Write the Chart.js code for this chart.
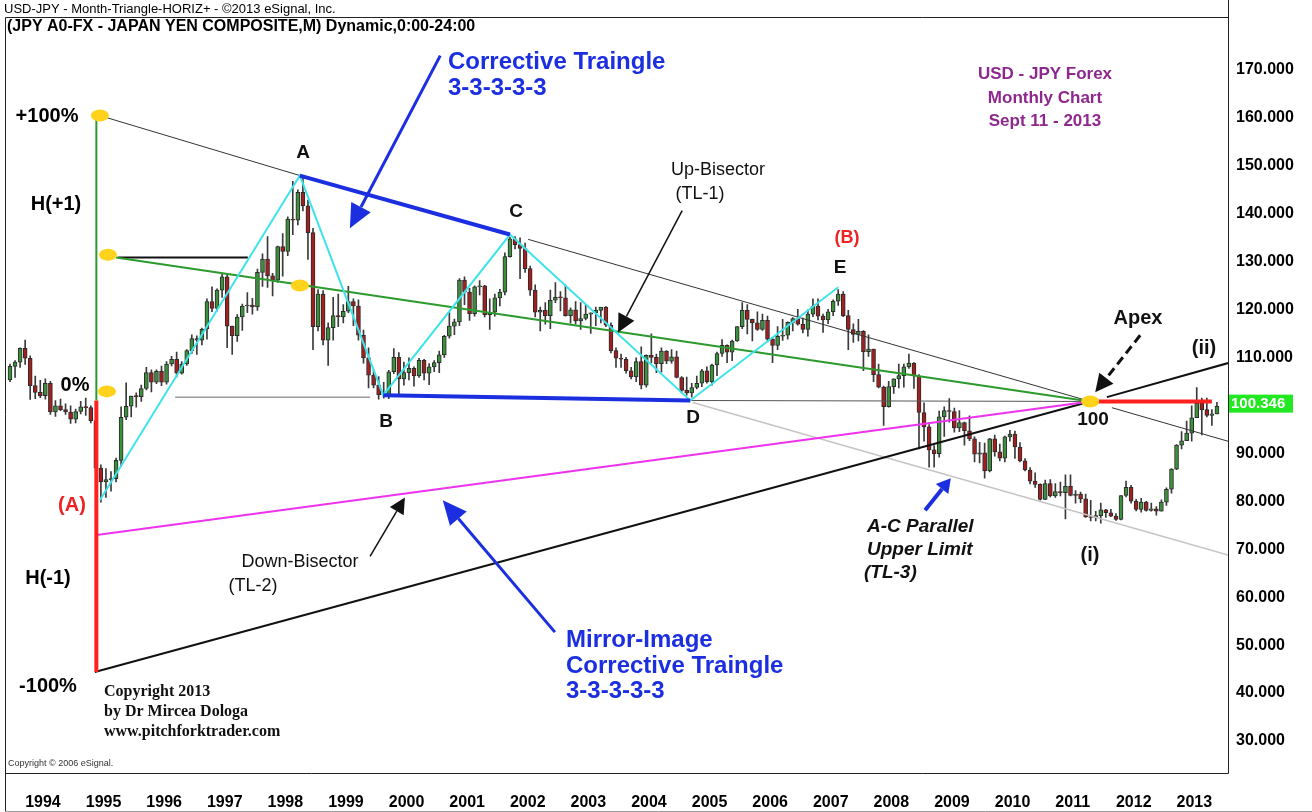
<!DOCTYPE html>
<html>
<head>
<meta charset="utf-8">
<script src="https://cdn.jsdelivr.net/npm/chart.js@4.4.0/dist/chart.umd.min.js"></script>
<style>
  html, body { margin: 0; padding: 0; background: #fff; }
  #wrap { width: 1312px; height: 812px; }
</style>
</head>
<body>
<div id="wrap"><canvas id="chart" width="1312" height="812"></canvas></div>
<script>
// monthly USD/JPY candles, Oct 1993 .. Sep 2013 (index 0 = Oct 1993)
var opens = [
  105.3, 108.1, 109.0,
  111.9, 109.8, 104.1, 102.7, 102.0, 104.6, 98.6, 99.9, 99.1, 98.6, 97.1, 98.7,
  99.7, 99.5, 96.8, 86.9, 84.0, 84.5, 84.7, 88.5, 97.5, 99.8, 101.9, 101.8,
  103.5, 106.8, 104.8, 107.1, 104.8, 108.6, 109.6, 106.7, 108.6, 111.4, 113.9, 113.6,
  115.9, 121.6, 120.2, 124.0, 126.8, 116.5, 114.5, 118.4, 120.7, 120.9, 120.5, 127.7,
  130.5, 127.0, 126.1, 133.1, 132.1, 138.8, 138.6, 144.4, 141.6, 136.0, 116.4, 123.2,
  113.6, 116.2, 118.7, 118.4, 119.6, 121.6, 120.7, 114.6, 109.9, 106.3, 104.2, 102.2,
  102.2, 107.0, 110.0, 105.5, 106.8, 107.7, 106.1, 109.4, 106.7, 108.0, 108.9, 110.5,
  114.4, 116.5, 117.4, 126.1, 123.6, 119.1, 124.7, 124.9, 118.9, 119.4, 122.4, 123.6,
  131.0, 134.7, 133.5, 132.7, 128.5, 124.0, 119.4, 119.8, 118.7, 121.9, 122.5, 122.4,
  118.7, 119.9, 117.6, 118.1, 119.0, 119.3, 119.8, 120.5, 116.7, 111.4, 109.8, 109.6,
  107.2, 105.9, 109.1, 104.2, 110.4, 110.0, 108.7, 111.3, 109.2, 110.1, 105.8, 103.1,
  102.6, 103.7, 104.6, 107.2, 104.9, 108.4, 110.8, 112.5, 111.1, 113.4, 116.4, 119.8,
  117.9, 117.2, 115.8, 117.7, 113.8, 112.5, 114.4, 114.6, 117.3, 118.1, 116.9, 115.8,
  119.0, 120.7, 118.6, 117.8, 119.5, 121.7, 123.2, 118.7, 115.8, 114.8, 115.4, 111.2,
  111.7, 106.4, 103.8, 99.7, 103.9, 105.5, 106.2, 108.0, 108.8, 106.1, 98.5, 95.5,
  90.7, 89.9, 97.6, 98.9, 98.7, 95.3, 96.4, 94.7, 93.0, 89.8, 90.1, 86.3,
  93.0, 90.3, 89.0, 93.4, 94.0, 91.3, 88.4, 86.5, 84.2, 83.5, 80.4, 83.7,
  81.1, 82.0, 81.8, 83.1, 81.2, 81.5, 80.5, 76.7, 76.6, 77.0, 78.2, 77.6,
  76.9, 76.2, 81.2, 82.9, 80.0, 78.3, 79.8, 78.1, 78.4, 77.9, 79.8, 82.5,
  86.7, 91.7, 92.6, 94.2, 97.4, 100.4, 99.1, 97.9, 98.2
];
var highs = [
  108.6, 109.3, 112.0,
  113.6, 110.3, 106.1, 105.2, 105.5, 105.0, 101.0, 101.3, 100.3, 99.9, 99.2, 100.8,
  101.5, 99.9, 97.3, 87.6, 86.8, 86.2, 89.0, 99.7, 104.7, 101.9, 102.6, 104.2,
  107.9, 107.4, 107.4, 108.2, 109.1, 110.2, 111.1, 109.1, 111.6, 114.7, 114.5, 116.1,
  122.2, 124.7, 124.3, 127.4, 127.3, 116.5, 118.9, 121.1, 123.5, 122.3, 128.4, 131.6,
  135.2, 127.5, 133.2, 135.8, 139.3, 146.7, 144.9, 147.7, 142.8, 136.9, 124.1, 123.9,
  117.2, 122.5, 123.2, 121.0, 124.8, 122.2, 122.0, 115.7, 112.0, 107.4, 106.0, 104.8,
  107.3, 111.8, 111.0, 109.0, 109.9, 108.0, 109.8, 109.6, 108.7, 109.3, 111.3, 114.6,
  119.4, 118.0, 126.4, 126.8, 124.4, 124.9, 126.0, 125.0, 122.2, 123.2, 124.2, 131.8,
  135.0, 135.2, 134.9, 133.8, 129.0, 125.1, 120.5, 121.4, 124.0, 125.6, 123.7, 125.1,
  120.3, 121.6, 121.4, 121.0, 119.3, 120.5, 120.4, 120.6, 117.2, 112.0, 110.7, 110.0,
  107.9, 109.9, 112.2, 110.5, 114.9, 110.7, 112.0, 111.4, 111.6, 111.3, 106.0, 105.9,
  104.6, 106.1, 107.5, 108.0, 108.6, 111.1, 113.7, 112.6, 113.6, 116.4, 121.4, 121.0,
  118.0, 119.5, 119.0, 118.6, 114.0, 116.4, 117.9, 117.4, 118.3, 120.0, 118.2, 119.9,
  122.2, 122.2, 119.0, 120.0, 122.0, 124.1, 123.7, 119.8, 117.0, 117.9, 115.6, 114.7,
  111.7, 108.6, 104.0, 105.0, 105.5, 108.6, 108.6, 110.7, 108.9, 106.4, 100.5, 96.0,
  91.6, 98.8, 99.7, 101.4, 99.4, 98.9, 96.5, 97.8, 93.4, 92.3, 92.1, 93.1,
  93.8, 91.9, 93.6, 94.8, 94.6, 92.2, 88.9, 87.0, 85.9, 83.6, 84.4, 84.5,
  83.7, 84.0, 85.5, 85.5, 82.2, 81.9, 81.5, 80.2, 77.9, 79.6, 78.3, 78.3,
  77.4, 81.2, 84.2, 83.3, 80.4, 80.6, 80.0, 79.6, 78.9, 80.3, 82.8, 86.8,
  91.8, 94.5, 96.7, 99.9, 103.7, 101.5, 101.5, 99.1, 100.6
];
var lows = [
  104.9, 105.8, 107.9,
  108.5, 101.2, 101.4, 101.6, 101.3, 98.1, 97.7, 98.9, 98.1, 96.2, 96.3, 98.2,
  97.9, 96.3, 86.6, 79.8, 80.8, 82.1, 84.0, 87.2, 97.0, 97.6, 99.6, 100.8,
  103.2, 102.8, 104.5, 104.1, 104.4, 108.2, 105.9, 106.5, 108.3, 110.8, 110.6, 112.6,
  113.8, 119.5, 119.6, 122.5, 112.0, 110.6, 113.3, 115.6, 119.3, 119.0, 119.8, 124.8,
  124.6, 122.8, 125.6, 126.9, 131.2, 135.6, 137.6, 140.5, 130.4, 111.6, 115.5, 112.6,
  108.3, 113.6, 116.4, 117.2, 119.3, 116.6, 113.6, 108.8, 103.6, 103.6, 101.3, 101.5,
  101.4, 106.6, 102.0, 104.2, 105.3, 104.0, 105.8, 105.3, 104.3, 107.0, 106.8, 110.0,
  114.0, 114.7, 116.6, 121.0, 117.7, 118.6, 123.0, 118.4, 115.8, 118.6, 120.7, 123.0,
  130.9, 132.6, 126.4, 127.7, 122.9, 118.4, 115.5, 116.9, 116.0, 121.4, 119.7, 118.6,
  117.1, 116.9, 115.8, 117.8, 115.0, 116.6, 117.2, 116.4, 110.9, 107.9, 107.9, 106.7,
  105.5, 104.9, 103.4, 103.8, 108.9, 106.8, 106.9, 108.7, 108.8, 105.7, 102.6, 102.1,
  101.7, 103.4, 103.9, 104.6, 104.2, 106.2, 110.2, 108.9, 109.3, 113.3, 116.0, 114.9,
  113.4, 115.6, 115.6, 113.2, 108.9, 111.6, 113.5, 113.8, 115.5, 116.7, 115.1, 114.4,
  118.5, 117.8, 115.2, 117.0, 118.7, 120.8, 118.5, 111.6, 113.1, 113.4, 107.2, 110.2,
  104.9, 103.6, 95.8, 99.6, 102.5, 103.6, 103.8, 107.7, 103.5, 90.9, 92.5, 87.1,
  87.1, 89.2, 93.5, 96.5, 94.4, 94.5, 91.7, 92.6, 88.2, 88.0, 84.8, 86.1,
  89.4, 88.4, 88.2, 92.5, 88.9, 88.2, 86.3, 83.6, 82.9, 80.2, 80.3, 80.9,
  80.8, 81.1, 76.3, 81.1, 79.6, 79.7, 76.6, 75.9, 75.9, 75.4, 76.6, 76.8,
  76.0, 76.1, 80.9, 79.6, 78.0, 77.7, 77.9, 77.9, 77.1, 77.9, 79.1, 81.7,
  86.6, 90.9, 92.6, 92.5, 97.4, 93.8, 97.6, 95.8, 98.2
];
var closes = [
  108.1, 109.0, 111.9,
  109.8, 104.1, 102.7, 102.0, 104.6, 98.6, 99.9, 99.1, 98.6, 97.1, 98.7, 99.7,
  99.5, 96.8, 86.9, 84.0, 84.5, 84.7, 88.5, 97.5, 99.8, 101.9, 101.8, 103.5,
  106.8, 104.8, 107.1, 104.8, 108.6, 109.6, 106.7, 108.6, 111.4, 113.9, 113.6, 115.9,
  121.6, 120.2, 124.0, 126.8, 116.5, 114.5, 118.4, 120.7, 120.9, 120.5, 127.7, 130.5,
  127.0, 126.1, 133.1, 132.1, 138.8, 138.6, 144.4, 141.6, 136.0, 116.4, 123.2, 113.6,
  116.2, 118.7, 118.4, 119.6, 121.6, 120.7, 114.6, 109.9, 106.3, 104.2, 102.2, 102.2,
  107.0, 110.0, 105.5, 106.8, 107.7, 106.1, 109.4, 106.7, 108.0, 108.9, 110.5, 114.4,
  116.5, 117.4, 126.1, 123.6, 119.1, 124.7, 124.9, 118.9, 119.4, 122.4, 123.6, 131.0,
  134.7, 133.5, 132.7, 128.5, 124.0, 119.4, 119.8, 118.7, 121.9, 122.5, 122.4, 118.7,
  119.9, 117.6, 118.1, 119.0, 119.3, 119.8, 120.5, 116.7, 111.4, 109.8, 109.6, 107.2,
  105.9, 109.1, 104.2, 110.4, 110.0, 108.7, 111.3, 109.2, 110.1, 105.8, 103.1, 102.6,
  103.7, 104.6, 107.2, 104.9, 108.4, 110.8, 112.5, 111.1, 113.4, 116.4, 119.8, 117.9,
  117.2, 115.8, 117.7, 113.8, 112.5, 114.4, 114.6, 117.3, 118.1, 116.9, 115.8, 119.0,
  120.7, 118.6, 117.8, 119.5, 121.7, 123.2, 118.7, 115.8, 114.8, 115.4, 111.2, 111.7,
  106.4, 103.8, 99.7, 103.9, 105.5, 106.2, 108.0, 108.8, 106.1, 98.5, 95.5, 90.7,
  89.9, 97.6, 98.9, 98.7, 95.3, 96.4, 94.7, 93.0, 89.8, 90.1, 86.3, 93.0,
  90.3, 89.0, 93.4, 94.0, 91.3, 88.4, 86.5, 84.2, 83.5, 80.4, 83.7, 81.1,
  82.0, 81.8, 83.1, 81.2, 81.5, 80.5, 76.7, 76.6, 77.0, 78.2, 77.6, 76.9,
  76.2, 81.2, 82.9, 80.0, 78.3, 79.8, 78.1, 78.4, 77.9, 79.8, 82.5, 86.7,
  91.7, 92.6, 94.2, 97.4, 100.4, 99.1, 97.9, 98.2, 99.8
];

// axis labels
var yearLabels = [1994, 1995, 1996, 1997, 1998, 1999, 2000, 2001, 2002, 2003,
                  2004, 2005, 2006, 2007, 2008, 2009, 2010, 2011, 2012, 2013];
var priceTicks = [170, 160, 150, 140, 130, 120, 110, 90, 80, 70, 60, 50, 40, 30];
var lastPrice = 100.346;

// pivots of the triangle [month index, price]
var pTop = [17.8, 160.4], pStart = [17.8, 80.2], pA = [57.4, 147.9], pB = [73.9, 102.1],
    pC = [99.0, 135.6], pD = [134.7, 101.0], pE = [164.0, 124.6], pApex = [213.9, 100.8];

// trend lines [from, to]
var upperLine = [[pTop, pA], [[102.6, 134.6], pApex], [[218.2, 99.5], [241.2, 92.5]]];
var lowerLine = [[[16.8, 44.4], pApex], [[217.2, 101.7], [241.2, 108.8]]];
var upBisector = [[21.0, 130.8], pApex];
var downBisector = [[16.8, 72.9], pApex];
var h1Marker = [[21.4, 130.8], [47.1, 130.8]];
var zeroLine = [[32.7, 101.7], [71.3, 101.7]];
var dApexLine = [pD, pApex];
var tl3Line = [[135.2, 100.6], [241.2, 68.8]];
var acLine = [pA, pC];
var bdLine = [pB, pD];
var zigzag = [pStart, pA, pB, pC, pD, pE];
var plusRange = [[17.1, 160.4], [17.1, 101.0]];
var minusRange = [[17.1, 101.0], [17.1, 44.4]];
var apexTarget = [pApex, [238.0, 100.8]];
var yellowDots = [pTop, [19.4, 131.4], [57.4, 125.0], [19.2, 102.9], pApex];

// annotation arrows [from, to]
var arrowCorrective = [[85.2, 172.9], [67.3, 136.9]];
var arrowMirror = [[107.9, 52.7], [85.7, 80.2]];
var arrowTL3 = [[181.2, 78.1], [186.3, 84.8]];
var arrowUpBis = [[133.1, 140.6], [120.4, 115.2]];
var arrowDownBis = [[71.3, 68.5], [78.2, 80.8]];
var arrowApex = [[223.8, 114.6], [214.9, 102.7]];

var SANS = 'Arial, "Liberation Sans", sans-serif';
var SERIF = '"Times New Roman", "Liberation Serif", serif';
var BLUE = '#1b2fe0';

function pts(list) {
    return list.map(function(p) { return { x: p[0], y: p[1] }; });
}

function lineSet(list, color, width, order) {
    return {
        type: 'line',
        data: pts(list),
        borderColor: color,
        borderWidth: width,
        pointRadius: 0,
        fill: false,
        tension: 0,
        order: order
    };
}

var wicks = highs.map(function(h, i) { return { x: i, y: [lows[i], h] }; });
var bodies = closes.map(function(c, i) { return { x: i, y: [opens[i], c] }; });
var bodyColors = closes.map(function(c, i) { return c >= opens[i] ? '#3c8f3c' : '#a11f1f'; });

var datasets = [
    { type: 'bar', data: wicks, backgroundColor: '#3a3a3a', barThickness: 1, grouped: false, order: 30 },
    { type: 'bar', data: bodies, backgroundColor: bodyColors, borderColor: '#2b2b2b', borderWidth: 1,
      borderSkipped: false, barThickness: 4, minBarLength: 1, grouped: false, order: 29 },
    lineSet(tl3Line, '#c4c4c4', 1.5, 12),
    lineSet(zeroLine, '#9a9a9a', 1.5, 12),
    lineSet(dApexLine, '#555', 1, 11),
    lineSet(upperLine[0], '#333', 1, 11),
    lineSet(upperLine[1], '#333', 1, 11),
    lineSet(upperLine[2], '#333', 1, 11),
    lineSet(lowerLine[0], '#111', 2, 10),
    lineSet(lowerLine[1], '#111', 2, 10),
    lineSet(downBisector, '#ee33ee', 2, 9),
    lineSet(upBisector, '#2c9a2c', 2, 9),
    lineSet(h1Marker, '#111', 2, 9),
    lineSet(zigzag, '#3fe3ea', 2, 8),
    lineSet(acLine, BLUE, 4, 7),
    lineSet(bdLine, BLUE, 4, 7),
    lineSet(plusRange, '#2c9a2c', 2, 6),
    lineSet(minusRange, '#ff2020', 4, 6),
    lineSet(apexTarget, '#ff2020', 4, 6)
];

function arrow(ctx, x, y, seg, color, width, head, half, dash) {
    var x1 = x.getPixelForValue(seg[0][0]), y1 = y.getPixelForValue(seg[0][1]);
    var x2 = x.getPixelForValue(seg[1][0]), y2 = y.getPixelForValue(seg[1][1]);
    var ang = Math.atan2(y2 - y1, x2 - x1);
    var bx = x2 - Math.cos(ang) * head, by = y2 - Math.sin(ang) * head;
    ctx.save();
    ctx.strokeStyle = color;
    ctx.fillStyle = color;
    ctx.lineWidth = width;
    ctx.setLineDash(dash || []);
    ctx.beginPath();
    ctx.moveTo(x1, y1);
    ctx.lineTo(bx, by);
    ctx.stroke();
    ctx.setLineDash([]);
    ctx.beginPath();
    ctx.moveTo(x2, y2);
    ctx.lineTo(bx + Math.sin(ang) * half, by - Math.cos(ang) * half);
    ctx.lineTo(bx - Math.sin(ang) * half, by + Math.cos(ang) * half);
    ctx.closePath();
    ctx.fill();
    ctx.restore();
}

var annotations = {
    id: 'annotations',
    afterDatasetsDraw: function(chart) {
        var ctx = chart.ctx, x = chart.scales.x, y = chart.scales.y;

        // gelbe Markierungen
        ctx.save();
        ctx.fillStyle = '#ffd21c';
        yellowDots.forEach(function(p) {
            ctx.beginPath();
            ctx.ellipse(x.getPixelForValue(p[0]), y.getPixelForValue(p[1]), 9, 6, 0, 0, Math.PI * 2);
            ctx.fill();
        });
        ctx.restore();

        arrow(ctx, x, y, arrowCorrective, BLUE, 3, 24, 11);
        arrow(ctx, x, y, arrowMirror, BLUE, 3, 24, 11);
        arrow(ctx, x, y, arrowTL3, BLUE, 4, 14, 8);
        arrow(ctx, x, y, arrowUpBis, '#111', 1.5, 18, 9);
        arrow(ctx, x, y, arrowDownBis, '#111', 1.5, 16, 8);
        arrow(ctx, x, y, arrowApex, '#111', 3, 18, 9, [9, 5]);
    },
    afterDraw: function(chart) {
        var ctx = chart.ctx, a = chart.chartArea, y = chart.scales.y;
        ctx.save();

        // Rahmen
        ctx.strokeStyle = '#222';
        ctx.lineWidth = 1;
        ctx.beginPath();
        ctx.moveTo(5.5, 17.5); ctx.lineTo(a.right + 0.5, 17.5);
        ctx.moveTo(5.5, 17.5); ctx.lineTo(5.5, 812);
        ctx.moveTo(5.5, a.bottom + 0.5); ctx.lineTo(a.right + 0.5, a.bottom + 0.5);
        ctx.moveTo(a.right + 0.5, 0); ctx.lineTo(a.right + 0.5, a.bottom + 0.5);
        ctx.stroke();
        ctx.strokeStyle = '#999';
        ctx.beginPath();
        ctx.moveTo(5, 811.5); ctx.lineTo(1312, 811.5);
        ctx.stroke();

        // Kurs-Etikett
        var py = y.getPixelForValue(lastPrice);
        ctx.fillStyle = '#21e821';
        ctx.fillRect(a.right + 1, py - 9, 64, 18);
        ctx.fillStyle = '#fff';
        ctx.font = 'bold 15px ' + SANS;
        ctx.textBaseline = 'middle';
        ctx.textAlign = 'left';
        ctx.fillText(lastPrice.toFixed(3), a.right + 3, py);

        var texts = [
            ['USD-JPY - Month-Triangle-HORIZ+ - \u00a92013 eSignal, Inc.', 4, 9, '13px ' + SANS, '#000', 'left'],
            ['(JPY A0-FX - JAPAN YEN COMPOSITE,M) Dynamic,0:00-24:00', 7, 27, 'bold 16px ' + SANS, '#000', 'left'],
            ['Corrective Traingle', 448, 62, 'bold 24px ' + SANS, BLUE, 'left'],
            ['3-3-3-3-3', 448, 88, 'bold 24px ' + SANS, BLUE, 'left'],
            ['USD - JPY Forex', 1045, 74, 'bold 17px ' + SANS, '#8e278e', 'center'],
            ['Monthly Chart', 1045, 98, 'bold 17px ' + SANS, '#8e278e', 'center'],
            ['Sept 11 - 2013', 1045, 121, 'bold 17px ' + SANS, '#8e278e', 'center'],
            ['+100%', 47, 116, 'bold 20px ' + SANS, '#000', 'center'],
            ['H(+1)', 56, 204, 'bold 20px ' + SANS, '#000', 'center'],
            ['0%', 75, 385, 'bold 20px ' + SANS, '#000', 'center'],
            ['(A)', 72, 505, 'bold 20px ' + SANS, '#ee2222', 'center'],
            ['H(-1)', 48, 578, 'bold 20px ' + SANS, '#000', 'center'],
            ['-100%', 48, 686, 'bold 20px ' + SANS, '#000', 'center'],
            ['A', 303, 153, 'bold 19px ' + SANS, '#111', 'center'],
            ['B', 386, 422, 'bold 19px ' + SANS, '#111', 'center'],
            ['C', 516, 212, 'bold 19px ' + SANS, '#111', 'center'],
            ['D', 693, 418, 'bold 19px ' + SANS, '#111', 'center'],
            ['E', 840, 268, 'bold 19px ' + SANS, '#111', 'center'],
            ['(B)', 847, 238, 'bold 18px ' + SANS, '#ee2222', 'center'],
            ['100', 1093, 420, 'bold 19px ' + SANS, '#111', 'center'],
            ['Apex', 1138, 318, 'bold 20px ' + SANS, '#111', 'center'],
            ['(ii)', 1204, 348, 'bold 20px ' + SANS, '#111', 'center'],
            ['(i)', 1090, 555, 'bold 20px ' + SANS, '#111', 'center'],
            ['Up-Bisector', 718, 170, '18px ' + SANS, '#111', 'center'],
            ['(TL-1)', 700, 194, '18px ' + SANS, '#111', 'center'],
            ['Down-Bisector', 300, 562, '18px ' + SANS, '#111', 'center'],
            ['(TL-2)', 253, 586, '18px ' + SANS, '#111', 'center'],
            ['Mirror-Image', 566, 640, 'bold 24px ' + SANS, BLUE, 'left'],
            ['Corrective Traingle', 566, 666, 'bold 24px ' + SANS, BLUE, 'left'],
            ['3-3-3-3-3', 566, 691, 'bold 24px ' + SANS, BLUE, 'left'],
            ['A-C Parallel', 867, 527, 'italic bold 19px ' + SANS, '#111', 'left'],
            ['Upper Limit', 867, 550, 'italic bold 19px ' + SANS, '#111', 'left'],
            ['(TL-3)', 864, 573, 'italic bold 19px ' + SANS, '#111', 'left'],
            ['Copyright 2013', 104, 692, 'bold 16px ' + SERIF, '#111', 'left'],
            ['by Dr Mircea Dologa', 104, 712, 'bold 16px ' + SERIF, '#111', 'left'],
            ['www.pitchforktrader.com', 104, 732, 'bold 16px ' + SERIF, '#111', 'left'],
            ['Copyright \u00a9 2006 eSignal.', 8, 764, '9px ' + SANS, '#333', 'left']
        ];
        texts.forEach(function(t) {
            ctx.font = t[3];
            ctx.fillStyle = t[4];
            ctx.textAlign = t[5];
            ctx.textBaseline = 'middle';
            ctx.fillText(t[0], t[1], t[2]);
        });
        ctx.restore();
    }
};

new Chart(document.getElementById('chart'), {
    type: 'bar',
    data: { datasets: datasets },
    options: {
        responsive: false,
        animation: false,
        layout: { padding: { left: 5, top: 17, right: 0, bottom: 0 }, autoPadding: false },
        plugins: {
            legend: { display: false },
            tooltip: { enabled: false }
        },
        scales: {
            x: {
                type: 'linear',
                min: -0.99,
                max: 241.19,
                offset: false,
                bounds: 'data',
                grid: { display: false, drawTicks: false },
                border: { display: false },
                afterBuildTicks: function(s) {
                    s.ticks = yearLabels.map(function(yr) { return { value: (yr - 1994) * 12 + 3 }; });
                },
                afterFit: function(s) { s.height = 39; },
                ticks: {
                    align: 'start',
                    padding: 20,
                    autoSkip: false,
                    maxRotation: 0,
                    color: '#000',
                    font: { family: SANS, size: 16, weight: 'bold' },
                    callback: function(v, i) { return String(yearLabels[i]); }
                }
            },
            y: {
                position: 'right',
                min: 23.333,
                max: 180.833,
                bounds: 'data',
                grid: { display: false, drawTicks: false },
                border: { display: false },
                afterBuildTicks: function(s) {
                    s.ticks = priceTicks.map(function(v) { return { value: v }; });
                },
                afterFit: function(s) { s.width = 84; },
                ticks: {
                    padding: 8,
                    color: '#000',
                    font: { family: SANS, size: 16, weight: 'bold' },
                    callback: function(v) { return Number(v).toFixed(3); }
                }
            }
        }
    },
    plugins: [annotations]
});
</script>
</body>
</html>
